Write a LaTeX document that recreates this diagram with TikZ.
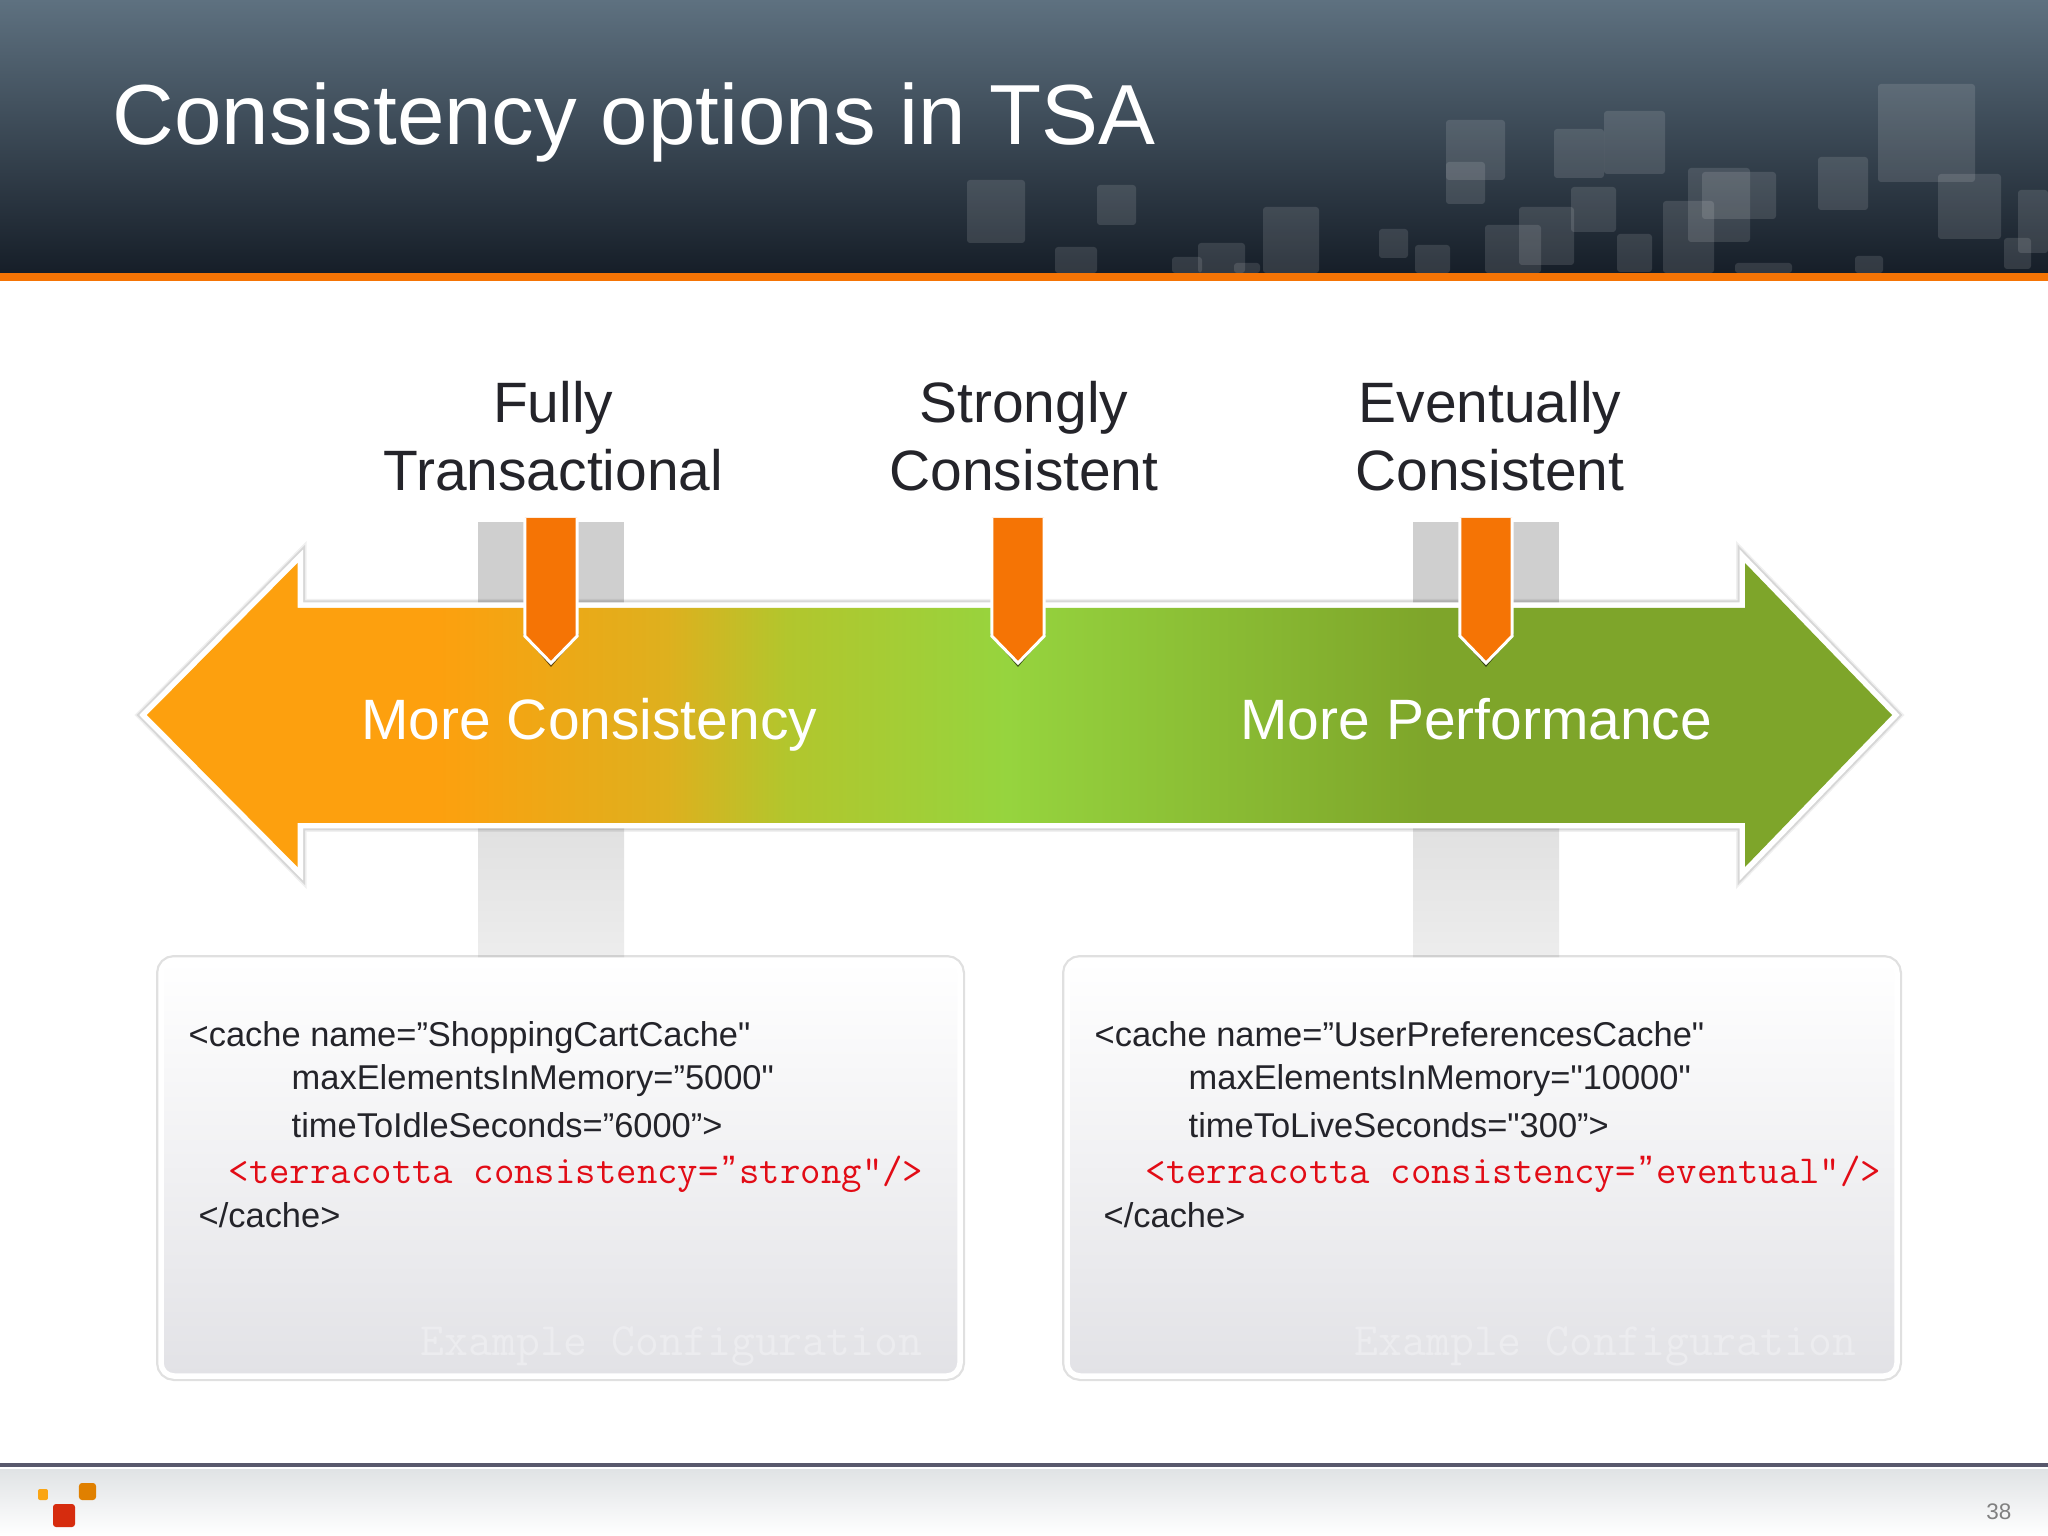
\documentclass[tikz,border=0pt]{standalone}
\usepackage{fontspec}
\setmainfont{Liberation Sans}
\newfontfamily\codefont{Liberation Sans}
\usetikzlibrary{calc}
\definecolor{barorange}{RGB}{245,116,5}
\definecolor{inktext}{RGB}{36,36,42}
\definecolor{codered}{RGB}{226,12,22}
\definecolor{headtop}{RGB}{94,113,128}
\definecolor{headbot}{RGB}{22,30,40}
\definecolor{boxgray}{RGB}{226,226,230}
\definecolor{markgray}{RGB}{236,236,239}
\definecolor{footgray}{RGB}{224,227,229}
\definecolor{footline}{RGB}{88,88,108}
\definecolor{logosmall}{RGB}{250,165,20}
\definecolor{logoamber}{RGB}{224,128,0}
\definecolor{logored}{RGB}{214,44,14}
\definecolor{gradorange}{RGB}{253,160,14}
\definecolor{gradgold}{RGB}{222,176,30}
\definecolor{gradlime}{RGB}{178,198,45}
\definecolor{gradgreen}{RGB}{150,212,62}
\definecolor{graddark}{RGB}{126,165,42}
\pgfdeclarehorizontalshading{consistgrad}{100bp}{
  color(0bp)=(gradorange);
  color(33.35bp)=(gradorange);
  color(39.9bp)=(gradgold);
  color(43.35bp)=(gradlime);
  color(49.65bp)=(gradgreen);
  color(61.75bp)=(graddark);
  color(100bp)=(graddark)}
\newcommand{\curlyq}{\makebox[.525em]{\codefont ”}}
\tikzset{
  headlabel/.style={anchor=base,inner sep=0pt,align=center,text=inktext,font=\fontsize{16.2}{19.6}\selectfont},
  arrowlabel/.style={anchor=base,inner sep=0pt,text=white,font=\fontsize{16.2}{19.6}\selectfont},
  codeline/.style={anchor=base west,inner sep=0pt,text=inktext,font=\fontsize{9.8}{12}\codefont},
  redline/.style={anchor=base west,inner sep=0pt,text=codered,font=\fontsize{11.28}{13}\ttfamily},
  watermark/.style={anchor=base east,inner sep=0pt,text=markgray,font=\fontsize{13.2}{14}\ttfamily},
  softedge/.style={draw=black,opacity=.10,miter limit=20},
  boxedge/.style={draw=black,opacity=.12,rounded corners=.13cm},
  codebox/.style={draw=white,line width=.055cm,rounded corners=.13cm,top color=white,bottom color=boxgray},
  tile/.style={fill=white,fill opacity=.12,rounded corners=.03cm}
}
\begin{document}
\begin{tikzpicture}[yscale=-1]
  \useasboundingbox (0,0) rectangle (20.48,15.36);
  \fill[white] (0,0) rectangle (20.48,15.36);
  % header
  \shade[top color=headtop,bottom color=headbot] (0,0) rectangle (20.48,2.73);
  \foreach \xa/\xb/\ya/\yb in {9.67/10.25/1.80/2.43,10.97/11.36/1.85/2.25,12.63/13.19/2.07/2.73,11.98/12.45/2.43/2.73,
    10.55/10.97/2.47/2.73,13.79/14.08/2.29/2.58,14.15/14.50/2.45/2.73,14.46/15.05/1.20/1.80,14.46/14.85/1.62/2.04,
    15.54/16.04/1.29/1.78,16.04/16.65/1.11/1.74,15.71/16.16/1.87/2.32,15.19/15.74/2.07/2.65,14.85/15.41/2.25/2.73,
    16.88/17.50/1.68/2.42,17.02/17.76/1.72/2.19,18.18/18.68/1.57/2.10,18.78/19.75/0.84/1.82,19.38/20.01/1.74/2.39,
    20.18/20.48/1.90/2.53,16.63/17.14/2.01/2.73,16.17/16.52/2.34/2.72,17.35/17.92/2.63/2.73,18.55/18.83/2.56/2.73,
    20.04/20.31/2.38/2.69,11.72/12.02/2.57/2.73,12.34/12.60/2.63/2.73}
    \fill[tile] (\xa,\ya) rectangle (\xb,\yb);
  \fill[barorange] (0,2.73) rectangle (20.48,2.81);
  \node[anchor=base west,inner sep=0pt,text=white,font=\fontsize{24.27}{28}\selectfont] (title) at (1.12,1.45) {Consistency options in TSA};
  % gray bars behind the arrow
  \foreach \xa/\xb in {4.78/6.24,14.13/15.59}{
    \fill[black!19] (\xa,5.22) rectangle (\xb,6.05);
    \shade[top color=black!12,bottom color=black!7] (\xa,8.25) rectangle (\xb,9.60);
  }
  % arrow
  \path[softedge,line width=.15cm] (1.47,7.15)--(2.975,5.63)--(2.975,6.08)--(17.45,6.08)--(17.45,5.63)--(18.92,7.15)--(17.45,8.67)--(17.45,8.23)--(2.975,8.23)--(2.975,8.67)--cycle;
  \path[softedge,line width=.18cm,opacity=.06] (1.47,7.15)--(2.975,5.63)--(2.975,6.08)--(17.45,6.08)--(17.45,5.63)--(18.92,7.15)--(17.45,8.67)--(17.45,8.23)--(2.975,8.23)--(2.975,8.67)--cycle;
  \draw[white,line width=.11cm,miter limit=20] (1.47,7.15)--(2.975,5.63)--(2.975,6.08)--(17.45,6.08)--(17.45,5.63)--(18.92,7.15)--(17.45,8.67)--(17.45,8.23)--(2.975,8.23)--(2.975,8.67)--cycle;
  \shade[shading=consistgrad] (1.47,7.15)--(2.975,5.63)--(2.975,6.08)--(17.45,6.08)--(17.45,5.63)--(18.92,7.15)--(17.45,8.67)--(17.45,8.23)--(2.975,8.23)--(2.975,8.67)--cycle;
  % flags
  \foreach \fx in {5.51,10.18,14.86}{
    \fill[black,opacity=.6] (\fx-.28,6.34)--(\fx,6.67)--(\fx+.28,6.34)--cycle;
    \draw[white,line width=.03cm,fill=barorange] (\fx-.262,5.18)--(\fx-.262,6.36)--(\fx,6.63)--(\fx+.262,6.36)--(\fx+.262,5.18);
  }
  \node[headlabel] (fully) at (5.533,4.91) {Fully\\Transactional};
  \node[headlabel] (strongly) at (10.24,4.91) {Strongly\\Consistent};
  \node[headlabel] (eventually) at (14.90,4.91) {Eventually\\Consistent};
  \node[arrowlabel] (moreconsist) at (5.893,7.39) {More Consistency};
  \node[arrowlabel] (moreperf) at (14.763,7.39) {More Performance};
  % config boxes
  \draw[boxedge,line width=.10cm] (1.61,9.60) rectangle (9.60,13.76);
  \draw[boxedge,line width=.10cm] (10.67,9.60) rectangle (18.97,13.76);
  \draw[codebox] (1.61,9.60) rectangle (9.60,13.76);
  \draw[codebox] (10.67,9.60) rectangle (18.97,13.76);
  \node[codeline] (lname) at (1.88,10.46) {<cache name=”ShoppingCartCache"};
  \node[codeline] (lmax) at (2.91,10.89) {maxElementsInMemory=”5000"};
  \node[codeline] (lidle) at (2.91,11.37) {timeToIdleSeconds=”6000”>};
  \node[redline] (lterra) at (2.28,11.83) {<terracotta consistency=\curlyq strong"/>};
  \node[codeline] (lend) at (1.98,12.27) {</cache>};
  \node[watermark] (lmark) at (9.23,13.55) {Example Configuration};
  \node[codeline] (rname) at (10.94,10.46) {<cache name=”UserPreferencesCache"};
  \node[codeline] (rmax) at (11.88,10.89) {maxElementsInMemory="10000"};
  \node[codeline] (rlive) at (11.88,11.37) {timeToLiveSeconds="300”>};
  \node[redline] (rterra) at (11.45,11.83) {<terracotta consistency=\curlyq eventual"/>};
  \node[codeline] (rend) at (11.03,12.27) {</cache>};
  \node[watermark] (rmark) at (18.57,13.55) {Example Configuration};
  % footer
  \shade[top color=footgray,bottom color=white] (0,14.69) rectangle (20.48,15.36);
  \fill[footline] (0,14.63) rectangle (20.48,14.67);
  \fill[logosmall,rounded corners=.02cm] (.38,14.89) rectangle (.48,15.00);
  \fill[logoamber,rounded corners=.03cm] (.79,14.83) rectangle (.96,15.00);
  \fill[logored,rounded corners=.03cm] (.53,15.04) rectangle (.75,15.27);
  \node[anchor=base east,inner sep=0pt,text=black!50,font=\fontsize{6.4}{8}\selectfont] (pageno) at (20.12,15.19) {38};
\end{tikzpicture}
\end{document}
